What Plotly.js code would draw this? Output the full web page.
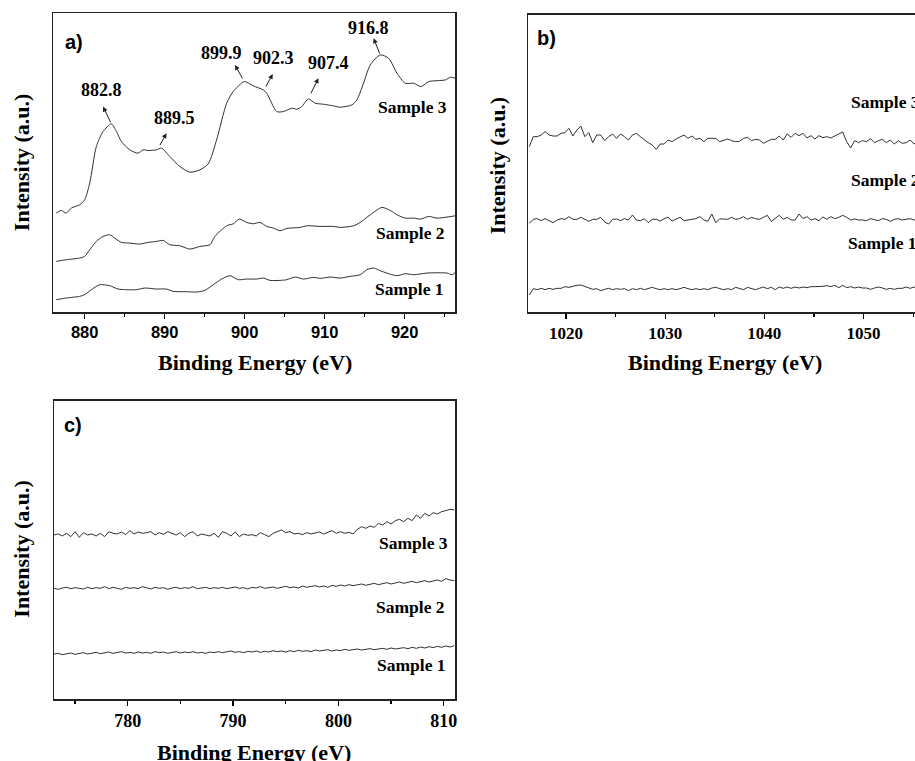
<!DOCTYPE html>
<html>
<head>
<meta charset="utf-8">
<script src="https://cdn.plot.ly/plotly-3.0.1.min.js"></script>
<style>
html,body{margin:0;padding:0;background:#fff;overflow:hidden;}
#chart{width:960px;height:761px;}
</style>
</head>
<body>
<div id="chart"></div>
<script>
// ---------- Panel a) ----------
var a_x3 = [876.45,877.08,877.70,878.33,879.37,880.00,880.63,881.46,882.30,883.34,883.97,884.59,885.64,886.68,887.31,887.93,888.98,889.60,890.65,891.90,893.15,894.41,895.45,896.49,897.75,898.58,899.96,901.09,902.34,902.76,904.01,904.84,905.89,906.51,907.14,907.97,908.81,909.85,911.11,911.94,913.40,914.03,914.86,915.70,916.95,918.00,919.04,920.08,921.13,922.05,923.01,925.09,925.72,926.35];
var a_y3 = [360,368,360,375,385,400,450,560,605,628,605,575,550,540,550,548,550,555,530,500,483,490,508,580,690,725,755,742,730,720,665,665,675,672,680,703,690,687,682,678,685,700,750,805,835,825,780,750,750,740,755,760,768,765];
var a_x2 = [876.45,877.70,879.37,880.00,880.63,881.46,882.30,883.13,883.76,884.59,885.64,886.89,887.93,888.98,889.81,890.65,891.90,893.15,894.41,895.66,896.28,897.75,898.58,899.33,900.25,901.09,901.92,902.76,903.59,904.43,905.26,906.93,907.77,909.44,911.11,911.94,913.61,914.45,915.70,917.16,918.20,919.04,920.08,921.13,921.96,923.01,924.05,926.35];
var a_y2 = [215,220,225,230,250,275,290,295,285,272,270,267,272,275,278,265,262,252,260,265,290,322,328,342,332,328,332,320,315,307,314,317,322,320,320,317,322,332,355,377,368,355,345,345,342,350,345,352];
var a_x1 = [876.45,877.70,879.37,880.00,880.84,881.88,883.13,884.18,885.22,886.47,887.52,888.98,890.23,891.06,892.73,893.99,895.03,896.08,897.12,898.16,899.21,900.25,901.50,902.34,903.17,904.43,905.26,906.30,907.35,908.60,909.44,910.69,911.94,913.19,914.45,915.28,916.12,917.16,919.04,920.08,921.13,922.80,925.30,925.93,926.35];
var a_y1 = [100,105,110,115,130,145,142,132,130,130,135,132,132,125,124,123,128,145,162,172,160,162,162,165,158,158,160,168,162,167,164,168,165,170,175,190,195,185,172,178,175,180,180,175,182];
var a_peakLabels = ["882.8","889.5","899.9","902.3","907.4","916.8"];
var a_peakTailX = [883.34,889.31,899.83,902.55,908.18,916.95];
var a_peakTailY = [628,560,760,735,715,835];
var a_peakTipX  = [882.30,890.23,898.79,903.51,909.23,916.12];
var a_peakTipY  = [680,600,805,778,765,885];
var a_peakTextX = [882.09,891.27,897.12,903.59,910.48,915.49];
var a_peakTextY = [730,645,840,825,810,915];

// ---------- Panel b) ----------
var b_x = [1016.3,1016.7,1017.1,1017.5,1017.9,1018.3,1018.7,1019.1,1019.5,1019.9,
1020.3,1020.7,1021.1,1021.5,1021.9,1022.3,1022.7,1023.1,1023.5,1023.9,
1024.3,1024.7,1025.1,1025.5,1025.9,1026.3,1026.7,1027.1,1027.5,1027.9,
1028.3,1028.7,1029.1,1029.5,1029.9,1030.3,1030.7,1031.1,1031.5,1031.9,
1032.3,1032.7,1033.1,1033.5,1033.9,1034.3,1034.7,1035.1,1035.5,1035.9,
1036.3,1036.7,1037.1,1037.5,1037.9,1038.3,1038.7,1039.1,1039.5,1039.9,
1040.3,1040.7,1041.1,1041.5,1041.9,1042.3,1042.7,1043.1,1043.5,1043.9,
1044.3,1044.7,1045.1,1045.5,1045.9,1046.3,1046.7,1047.1,1047.5,1047.9,
1048.3,1048.7,1049.1,1049.5,1049.9,1050.3,1050.7,1051.1,1051.5,1051.9,
1052.3,1052.7,1053.1,1053.5,1053.9,1054.3,1054.7,1055.1,1055.5,1055.9,
1056.3];
var b_y3 = [920,950,950,955,965,955,952,952,960,962,975,952,970,982,950,962,932,955,955,938,
950,958,945,958,950,940,955,960,950,940,932,925,912,928,928,940,935,943,950,955,
945,952,942,945,935,945,945,945,935,940,943,938,935,936,945,948,938,942,940,930,
936,942,942,952,940,958,948,960,953,960,946,953,943,953,947,950,946,952,958,964,
935,916,938,932,938,935,944,932,938,942,932,940,928,938,930,932,940,928,938,932,940];
var b_y2 = [690,702,704,698,704,698,692,700,704,702,710,702,702,708,702,696,702,702,708,694,
688,702,703,698,704,700,715,700,698,704,692,702,702,697,704,708,697,702,708,698,
700,704,704,710,700,696,718,692,703,703,702,708,702,704,710,702,708,704,702,708,
714,696,704,714,702,708,700,700,718,704,710,700,704,698,709,702,710,704,708,714,
708,700,703,700,700,698,704,700,698,704,702,696,702,704,700,702,704,700,702,700,704];
var b_y1 = [475,494,491,495,491,495,492,495,495,500,498,502,504,505,501,496,492,494,488,492,
495,491,494,492,494,488,494,491,495,491,494,498,494,491,494,491,494,491,494,498,
494,491,494,491,494,491,496,498,494,491,494,491,498,494,491,498,494,491,495,499,
494,498,491,499,495,499,495,499,496,499,497,500,500,500,501,503,500,504,497,504,
497,500,496,499,496,496,492,496,499,496,492,495,492,495,495,499,495,499,496,499,497];

// ---------- Panel c) ----------
var c_x = [773.0,773.4,773.8,774.2,774.6,775.0,775.4,775.8,776.2,776.6,
777.0,777.4,777.8,778.2,778.6,779.0,779.4,779.8,780.2,780.6,
781.0,781.4,781.8,782.2,782.6,783.0,783.4,783.8,784.2,784.6,
785.0,785.4,785.8,786.2,786.6,787.0,787.4,787.8,788.2,788.6,
789.0,789.4,789.8,790.2,790.6,791.0,791.4,791.8,792.2,792.6,
793.0,793.4,793.8,794.2,794.6,795.0,795.4,795.8,796.2,796.6,
797.0,797.4,797.8,798.2,798.6,799.0,799.4,799.8,800.2,800.6,
801.0,801.4,801.8,802.2,802.6,803.0,803.4,803.8,804.2,804.6,
805.0,805.4,805.8,806.2,806.6,807.0,807.4,807.8,808.2,808.6,
809.0,809.4,809.8,810.2,810.6,811.0];
var c_y3 = [895,898,892,900,890,905,888,902,895,898,892,900,890,905,900,898,904,896,908,898,
904,900,902,905,895,902,897,905,900,895,902,890,900,905,892,898,895,892,900,888,
905,900,892,904,890,898,894,896,892,902,896,890,900,905,910,902,905,898,900,896,
902,898,900,904,898,902,908,900,905,900,903,898,912,920,915,922,918,930,925,935,
928,938,942,935,945,938,955,945,960,952,962,958,965,968,972,970];
var c_y2 = [735,732,736,738,734,737,735,733,738,734,737,735,740,734,738,736,732,738,735,737,
734,740,736,733,738,735,737,732,736,738,734,737,735,740,734,736,738,734,737,735,
738,734,736,739,735,737,733,738,736,740,735,737,739,735,738,741,737,739,736,742,
738,740,743,739,742,738,744,741,745,742,746,743,745,748,744,747,750,746,749,752,
748,751,754,750,753,756,752,755,758,754,757,760,756,764,760,758];
var c_y1 = [538,540,536,539,541,537,540,542,538,540,543,539,541,544,540,542,545,541,543,540,
544,541,543,540,545,542,544,540,543,545,541,544,542,545,541,543,540,544,542,545,
542,544,547,543,545,542,546,544,547,543,546,544,548,545,547,544,548,545,549,546,
548,545,550,547,549,551,547,550,548,552,549,551,553,550,552,554,551,553,555,552,
556,553,555,557,554,558,555,559,556,560,557,561,558,562,559,563];

var sampleNames = ["Sample 1","Sample 2","Sample 3"];
var panelLetters = ["a)","b)","c)"];
var xTitle = "Binding Energy (eV)";
var yTitle = "Intensity (a.u.)";

// ---------- build ----------
var lineCol = '#303030';
function tr(x, y, xa, ya, spline) {
  return {x: x, y: y, xaxis: xa, yaxis: ya, type: 'scatter', mode: 'lines',
    line: {color: lineCol, width: 1, shape: spline ? 'spline' : 'linear', smoothing: 0.7},
    hoverinfo: 'skip', showlegend: false};
}
var data = [
  tr(a_x3, a_y3, 'x', 'y', true), tr(a_x2, a_y2, 'x', 'y', true), tr(a_x1, a_y1, 'x', 'y', true),
  tr(b_x, b_y3, 'x2', 'y2', false), tr(b_x, b_y2, 'x2', 'y2', false), tr(b_x, b_y1, 'x2', 'y2', false),
  tr(c_x, c_y3, 'x3', 'y3', false), tr(c_x, c_y2, 'x3', 'y3', false), tr(c_x, c_y1, 'x3', 'y3', false)
];

var serifB = {family: 'Liberation Serif, Times New Roman, serif', weight: 'bold', color: '#000'};
var sansB = {family: 'Liberation Sans, Arial, sans-serif', weight: 'bold', color: '#000'};
function f(base, size) { return Object.assign({}, base, {size: size}); }

function xax(domain, anchor, range, tick0, font) {
  return {domain: domain, anchor: anchor, range: range, tick0: tick0, dtick: 10,
    ticks: 'outside', ticklen: 5, tickwidth: 1.2, tickcolor: '#000',
    minor: {tick0: tick0 + 5, dtick: 10, ticks: 'outside', ticklen: 3, tickwidth: 1.2, tickcolor: '#000'},
    showline: true, mirror: true, linecolor: '#222', linewidth: 1.5,
    showgrid: false, zeroline: false, tickfont: font, fixedrange: true};
}
function yax(domain, anchor, range) {
  return {domain: domain, anchor: anchor, range: range, showticklabels: false, ticks: '',
    showline: true, mirror: true, linecolor: '#222', linewidth: 1.5,
    showgrid: false, zeroline: false, fixedrange: true};
}

var ann = [];
// peak arrows and labels (panel a)
for (var i = 0; i < a_peakLabels.length; i++) {
  ann.push({xref: 'x', yref: 'y', axref: 'x', ayref: 'y', x: a_peakTipX[i], y: a_peakTipY[i],
    ax: a_peakTailX[i], ay: a_peakTailY[i], text: '', showarrow: true,
    arrowhead: 2, arrowsize: 1, arrowwidth: 1, arrowcolor: '#222', standoff: 0, startstandoff: 0});
  ann.push({xref: 'x', yref: 'y', x: a_peakTextX[i], y: a_peakTextY[i], text: a_peakLabels[i],
    showarrow: false, font: f(serifB, 18)});
}
// sample labels
var aSX = [920.63, 920.71, 920.92], aSY = [132, 300, 678];
var bSX = [1048.26, 1048.49, 1048.49], bSY = [631, 820, 1055];
var cSX = [806.97, 806.88, 807.12], cSY = [505, 680, 870];
for (var k = 0; k < 3; k++) {
  ann.push({xref: 'x', yref: 'y', x: aSX[k], y: aSY[k], text: sampleNames[k], showarrow: false, font: f(serifB, 17.5)});
  ann.push({xref: 'x2', yref: 'y2', x: bSX[k], y: bSY[k], text: sampleNames[k], xanchor: 'left', showarrow: false, font: f(serifB, 17.5)});
  ann.push({xref: 'x3', yref: 'y3', x: cSX[k], y: cSY[k], text: sampleNames[k], showarrow: false, font: f(serifB, 17.5)});
}
// panel letters
var letX = [0.0659, 0.5573, 0.0643], letY = [0.9448, 0.9501, 0.4415];
for (var k = 0; k < 3; k++) {
  ann.push({xref: 'paper', yref: 'paper', x: letX[k], y: letY[k], xanchor: 'left', yanchor: 'middle',
    text: panelLetters[k], showarrow: false, font: f(sansB, 20)});
}
// axis titles
var ytX = [0.0226, 0.5191, 0.0226], ytY = [0.7865, 0.7832, 0.2786];
var xtX = [0.2656, 0.7552, 0.2646], xtY = [0.5230, 0.5230, 0.0118];
for (var k = 0; k < 3; k++) {
  ann.push({xref: 'paper', yref: 'paper', x: ytX[k], y: ytY[k], text: yTitle, textangle: -90,
    xanchor: 'center', yanchor: 'middle', showarrow: false, font: f(serifB, 22)});
  ann.push({xref: 'paper', yref: 'paper', x: xtX[k], y: xtY[k], text: xTitle,
    xanchor: 'center', yanchor: 'middle', showarrow: false, font: f(serifB, 22)});
}

var layout = {
  width: 960, height: 761,
  margin: {l: 0, r: 0, t: 0, b: 0},
  paper_bgcolor: '#fff', plot_bgcolor: '#fff',
  showlegend: false,
  xaxis:  xax([0.0557, 0.4740], 'y',  [876.1, 926.3], 880, f(sansB, 16.5)),
  yaxis:  yax([0.5900, 0.9825], 'x',  [63, 960]),
  xaxis2: xax([0.5503, 0.96875], 'y2', [1016.2, 1056.7], 1020, f(serifB, 17)),
  yaxis2: yax([0.5900, 0.9803], 'x2', [424, 1315]),
  xaxis3: xax([0.05625, 0.4743], 'y3', [773.0, 811.1], 780, f(serifB, 18)),
  yaxis3: yax([0.08147, 0.4731], 'x3', [403, 1297]),
  annotations: ann
};

Plotly.newPlot('chart', data, layout, {displayModeBar: false, staticPlot: true});
</script>
</body>
</html>
